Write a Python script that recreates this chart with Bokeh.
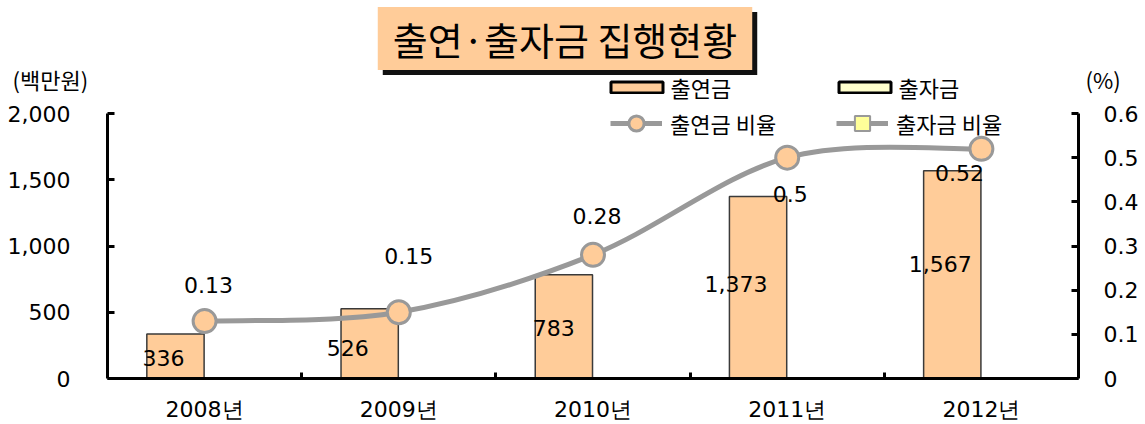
import math
from bokeh.plotting import figure
from bokeh.layouts import column
from bokeh.models import (Range1d, LinearAxis, FixedTicker, NumeralTickFormatter,
                          Label, Legend, LegendItem, ColumnDataSource)
from bokeh.core.properties import value
from bokeh.embed import file_html
from bokeh.resources import INLINE

# ---------------- data ----------------
years = ["2008년", "2009년", "2010년", "2011년", "2012년"]
contrib = [336, 526, 783, 1373, 1567]            # 출연금 (백만원)
contrib_ratio = [0.13, 0.15, 0.28, 0.5, 0.52]    # 출연금 비율 (%)
NA = math.nan
invest = [NA, NA, NA, NA, NA]                    # 출자금 (no values shown)
invest_ratio = [NA, NA, NA, NA, NA]              # 출자금 비율 (no values shown)
left_ticks = [0, 500, 1000, 1500, 2000]
right_ticks = [0, 0.1, 0.2, 0.3, 0.4, 0.5, 0.6]
LEFT_MAX, RIGHT_MAX = 2000, 0.6

# ---------------- style ----------------
PEACH = "#FFCC99"
PALE = "#FFFFCC"
GRAY = "#999999"
SHADOW = "#111111"
KFONT = "Noto Sans CJK KR"
NFONT = "DejaVu Sans"
bar_shift = -0.15
bar_width = 0.295
bar_label_dx = [-12, -22, -10, -22, -12]
bar_label_dy = [2, 4, 1, -4, -11]
pct_label_dx = [4, 10, 4, 3, -22]
pct_label_dy = [-36, -56, -39, 36, 24]

n = len(years)
xc = [i + 0.5 for i in range(n)]
W = 1145
TOP_H = 101
PLOT_TOP, PLOT_BOTTOM = 113, 378        # pixel rows of the value-axis ends
FRAME_H = PLOT_BOTTOM - TOP_H           # main frame starts right under header
head = FRAME_H / (PLOT_BOTTOM - PLOT_TOP)

# ================= header figure (title, axis titles, legend row 1) =================
top = figure(width=W, height=TOP_H, x_range=Range1d(0, W), y_range=Range1d(TOP_H, 0),
             output_backend="svg", toolbar_location=None, title=None,
             x_axis_location=None, y_axis_location=None,
             min_border=0, min_border_left=0, min_border_right=0,
             min_border_top=0, min_border_bottom=0)
top.frame_align = False
top.outline_line_color = None
top.xgrid.grid_line_color = None
top.ygrid.grid_line_color = None

ttl = "출연·출자금 집행현황"
tkw = dict(text=ttl, text_font=KFONT, text_font_size="38px",
           text_align="center", text_baseline="middle",
           padding=dict(left=15, right=15, top=4, bottom=4))
top.add_layout(Label(x=569.5, y=43, text_color=SHADOW,
                     background_fill_color=SHADOW, **tkw))
top.add_layout(Label(x=564.5, y=38, text_color="black",
                     background_fill_color=PEACH, **tkw))

top.add_layout(Label(x=12, y=78, text="(백만원)", text_font=KFONT, text_font_size="22px",
                     text_color="black", text_align="left", text_baseline="middle"))
top.add_layout(Label(x=1085, y=78, text="(%)", text_font=KFONT, text_font_size="22px",
                     text_color="black", text_align="left", text_baseline="middle"))

lg_bar_c = top.vbar(x=xc, top=invest, width=1, fill_color=PEACH, line_color="black", line_width=3)
lg_bar_i = top.vbar(x=xc, top=invest, width=1, fill_color=PALE, line_color="black", line_width=3)
leg1 = Legend(items=[LegendItem(label="출연금", renderers=[lg_bar_c]),
                     LegendItem(label="출자금", renderers=[lg_bar_i])],
              location=(603.5, -1.5), orientation="horizontal",
              glyph_width=65, glyph_height=14, label_height=14,
              label_standoff=2, label_width=161, spacing=0,
              padding=0, margin=0, border_line_color=None, background_fill_alpha=0,
              label_text_font=KFONT, label_text_font_size="22px",
              label_text_color="black")
top.add_layout(leg1, "center")

# ================= main chart =================
p = figure(frame_width=971, frame_height=FRAME_H, x_range=Range1d(0, 5),
           y_range=Range1d(0, LEFT_MAX * head),
           output_backend="svg", toolbar_location=None, title=None,
           x_axis_location=None, y_axis_location=None,
           min_border_left=107, min_border_right=67, min_border_top=0, min_border_bottom=46)
p.frame_align = False
p.extra_y_ranges = {"pct": Range1d(0, RIGHT_MAX * head)}
p.outline_line_color = None
p.xgrid.grid_line_color = None
p.ygrid.grid_line_color = None

# bars
bar_src = ColumnDataSource(dict(
    x=[c + bar_shift for c in xc], top=contrib,
    ymid=[v / 2 for v in contrib],
    lab=[f"{v:,}" for v in contrib],
    dx=bar_label_dx, dy=bar_label_dy))
p.vbar(x="x", top="top", width=bar_width, source=bar_src,
       fill_color=PEACH, line_color="#3a3a3a", line_width=1.5)
p.vbar(x=[c - bar_shift for c in xc], top=invest, width=bar_width,
       fill_color=PALE, line_color="#3a3a3a", line_width=1.5)

# smoothed ratio line (bezier segments through the data points)
def at(vals, j):
    return vals[min(max(j, 0), n - 1)]

bz = dict(x0=[], y0=[], x1=[], y1=[], cx0=[], cy0=[], cx1=[], cy1=[])
for i in range(n - 1):
    bz["x0"].append(xc[i]); bz["y0"].append(contrib_ratio[i])
    bz["x1"].append(xc[i + 1]); bz["y1"].append(contrib_ratio[i + 1])
    bz["cx0"].append(xc[i] + (at(xc, i + 1) - at(xc, i - 1)) / 6)
    bz["cy0"].append(contrib_ratio[i] + (at(contrib_ratio, i + 1) - at(contrib_ratio, i - 1)) / 6)
    bz["cx1"].append(xc[i + 1] - (at(xc, i + 2) - at(xc, i)) / 6)
    bz["cy1"].append(contrib_ratio[i + 1] - (at(contrib_ratio, i + 2) - at(contrib_ratio, i)) / 6)
r_curve = p.bezier(source=ColumnDataSource(bz), x0="x0", y0="y0", x1="x1", y1="y1",
                   cx0="cx0", cy0="cy0", cx1="cx1", cy1="cy1",
                   line_color=GRAY, line_width=5, y_range_name="pct")

pct_src = ColumnDataSource(dict(x=xc, y=contrib_ratio,
                                lab=[f"{v:g}" for v in contrib_ratio],
                                dx=pct_label_dx, dy=pct_label_dy))
r_mark = p.scatter(x="x", y="y", source=pct_src, size=23, marker="circle",
                   fill_color=PEACH, line_color=GRAY, line_width=3, y_range_name="pct")

# 출자금 비율 (no values)
r_inv_line = p.line(x=xc, y=invest_ratio, line_color=GRAY, line_width=5, y_range_name="pct")
r_inv_mark = p.scatter(x=xc, y=invest_ratio, marker="square", size=15, fill_color="#FFFF99",
                       line_color=GRAY, line_width=2, y_range_name="pct")

# data labels
p.text(x="x", y="ymid", text="lab", source=bar_src, x_offset="dx", y_offset="dy",
       text_font=value(NFONT), text_font_size="22px", text_color="black",
       text_align="center", text_baseline="middle")
p.text(x="x", y="y", text="lab", source=pct_src, x_offset="dx", y_offset="dy",
       text_font=value(NFONT), text_font_size="22px", text_color="black",
       text_align="center", text_baseline="middle", y_range_name="pct")

# axes
xax = LinearAxis(ticker=FixedTicker(ticks=xc, minor_ticks=[1, 2, 3, 4]),
                 major_label_overrides={c: y for c, y in zip(xc, years)})
xax.axis_line_width = 3
xax.axis_line_color = "black"
xax.major_tick_line_color = None
xax.minor_tick_in = 6
xax.minor_tick_out = 0
xax.minor_tick_line_width = 3
xax.major_label_standoff = 12
xax.major_label_text_font = NFONT
xax.major_label_text_font_size = "22px"
xax.major_label_text_color = "black"
p.add_layout(xax, "below")

lax = LinearAxis(ticker=FixedTicker(ticks=left_ticks), formatter=NumeralTickFormatter(format="0,0"),
                 bounds=(0, LEFT_MAX))
rax = LinearAxis(ticker=FixedTicker(ticks=right_ticks), y_range_name="pct",
                 major_label_overrides={0: "0"}, bounds=(0, RIGHT_MAX))
for ax, so in ((lax, 37), (rax, 25)):
    ax.axis_line_width = 3
    ax.axis_line_color = "black"
    ax.major_tick_in = 7
    ax.major_tick_out = 0
    ax.major_tick_line_width = 3
    ax.minor_tick_line_color = None
    ax.major_label_standoff = so
    ax.major_label_text_font = NFONT
    ax.major_label_text_font_size = "22px"
    ax.major_label_text_color = "black"
p.add_layout(lax, "left")
p.add_layout(rax, "right")

# legend row 2
leg2 = Legend(items=[LegendItem(label="출연금 비율", renderers=[r_curve, r_mark]),
                     LegendItem(label="출자금 비율", renderers=[r_inv_line, r_inv_mark])],
              location=(503, PLOT_BOTTOM - 142), orientation="horizontal",
              glyph_width=52, glyph_height=38,
              label_standoff=8, label_width=166, spacing=0,
              padding=0, margin=0, border_line_color=None, background_fill_alpha=0,
              label_text_font=KFONT, label_text_font_size="22px", label_text_color="black")
p.add_layout(leg2, "center")

layout = column(top, p, spacing=0)
open("out.html", "w").write(file_html(layout, INLINE))
